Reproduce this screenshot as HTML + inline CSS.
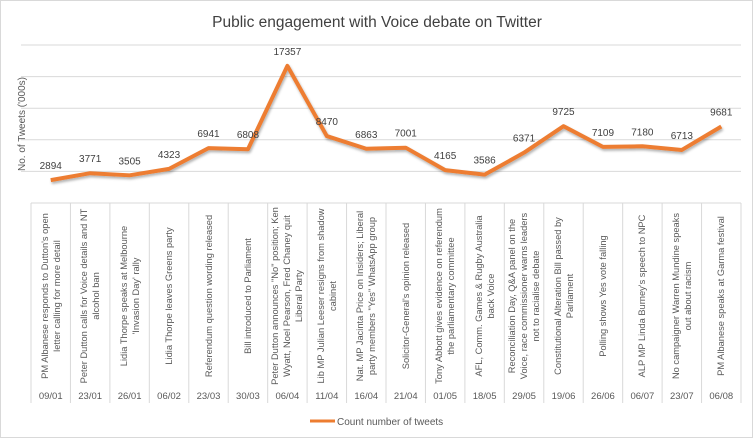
<!DOCTYPE html>
<html><head><meta charset="utf-8">
<style>
body{margin:0;background:#fff;}
#c{position:relative;width:754px;height:439px;overflow:hidden;font-family:"Liberation Sans",sans-serif;}
svg text{font-family:"Liberation Sans",sans-serif;}
.cat{position:absolute;width:178px;height:38px;display:flex;align-items:center;justify-content:center;text-align:center;font-size:9.3px;line-height:12px;color:#595959;transform:rotate(-90deg);transform-origin:center center;}
</style></head><body>
<div id="c">
<svg id="s" width="754" height="439" style="position:absolute;left:0;top:0">
<defs><filter id="sh" x="-5%" y="-5%" width="110%" height="120%"><feDropShadow dx="1" dy="2" stdDeviation="1.2" flood-color="#000" flood-opacity="0.3"/></filter></defs>
<rect x="0.5" y="0.5" width="752" height="437" fill="#fff" stroke="#d9d9d9"/>
<text x="377" y="27" text-anchor="middle" font-size="15.5" fill="#404040">Public engagement with Voice debate on Twitter</text>
<text transform="translate(25,124) rotate(-90)" text-anchor="middle" font-size="10" fill="#595959">No. of Tweets ('000s)</text>
<g id="grid"></g><g id="table"></g><g id="series"></g><g id="labels"></g>
<line x1="310" y1="421" x2="335" y2="421" stroke="#ED7D31" stroke-width="3"/>
<text x="337" y="425" font-size="10" fill="#595959">Count number of tweets</text>
</svg>
<div id="cats"></div>
</div>
<script>
const dates=["09/01","23/01","26/01","06/02","23/03","30/03","06/04","11/04","16/04","21/04","01/05","18/05","29/05","19/06","26/06","06/07","23/07","06/08"];
const events=["PM Albanese responds to Dutton's open letter calling for more detail","Peter Dutton calls for Voice details and NT alcohol ban","Lidia Thorpe speaks at Melbourne 'Invasion Day' rally","Lidia Thorpe leaves Greens party","Referendum question wording released","Bill introduced to Parliament","Peter Dutton announces \"No\" position; Ken Wyatt, Noel Pearson, Fred Chaney quit Liberal Party","Lib MP Julian Leeser resigns from shadow cabinet","Nat. MP Jacinta Price on Insiders; Liberal party members \"Yes\" WhatsApp group","Solicitor-General's opinion released","Tony Abbott gives evidence on referendum the parliamentary committee","AFL, Comm. Games & Rugby Australia back Voice","Reconciliation Day, Q&A panel on the Voice, race commissioner warns leaders not to racialise debate","Constitutional Alteration Bill passed by Parliament","Polling shows Yes vote falling","ALP MP Linda Burney's speech to NPC","No campaigner Warren Mundine speaks out about racism","PM Albanese speaks at Garma festival"];
const tweets=[2894,3771,3505,4323,6941,6808,17357,8470,6863,7001,4165,3586,6371,9725,7109,7180,6713,9681];
const yTicks=[0,4000,8000,12000,16000,20000];
const NS="http://www.w3.org/2000/svg";
const pL=31,pR=741,pT=45,pB=203,yMax=20000;
const bw=(pR-pL)/dates.length;
const xPos=i=>pL+bw*(i+0.5);
const yPos=v=>pB-(v/yMax)*(pB-pT);
function mk(t,a,p){const e=document.createElementNS(NS,t);for(const k in a)e.setAttribute(k,a[k]);p.appendChild(e);return e;}
const grid=document.getElementById('grid');
yTicks.forEach(v=>{if(v===0)return;const l=mk('line',{x1:21,x2:pR,y1:yPos(v),y2:yPos(v),stroke:'#d9d9d9','stroke-width':1},grid);

});
const tb=document.getElementById('table');
for(let i=0;i<=dates.length;i++){const x=pL+bw*i;const l=mk('line',{x1:x,x2:x,y1:pB,y2:403,stroke:'#d9d9d9','stroke-width':1},tb);

}
const ax=mk('line',{x1:pL,x2:pR,y1:pB,y2:pB,stroke:'#d9d9d9','stroke-width':1},tb);


const cats=document.getElementById('cats');
dates.forEach((d,i)=>{const t=mk('text',{x:xPos(i),y:399,'text-anchor':'middle','font-size':9.5,fill:'#595959'},tb);t.textContent=d;


const div=document.createElement('div');div.className='cat';div.textContent=events[i];
div.style.left=(xPos(i)-89)+'px';div.style.top=(296-19)+'px';


cats.appendChild(div);});
const pts=tweets.map((v,i)=>xPos(i)+','+yPos(v)).join(' ');
const pl=mk('polyline',{points:pts,fill:'none',stroke:'#ED7D31','stroke-width':4,'stroke-linejoin':'round',filter:'url(#sh)'},document.getElementById('series'));


const lb=document.getElementById('labels');
tweets.forEach((v,i)=>{const t=mk('text',{x:xPos(i),y:yPos(v)-11,'text-anchor':'middle','font-size':10,fill:'#404040'},lb);t.textContent=v;

});
</script>
</body></html>
